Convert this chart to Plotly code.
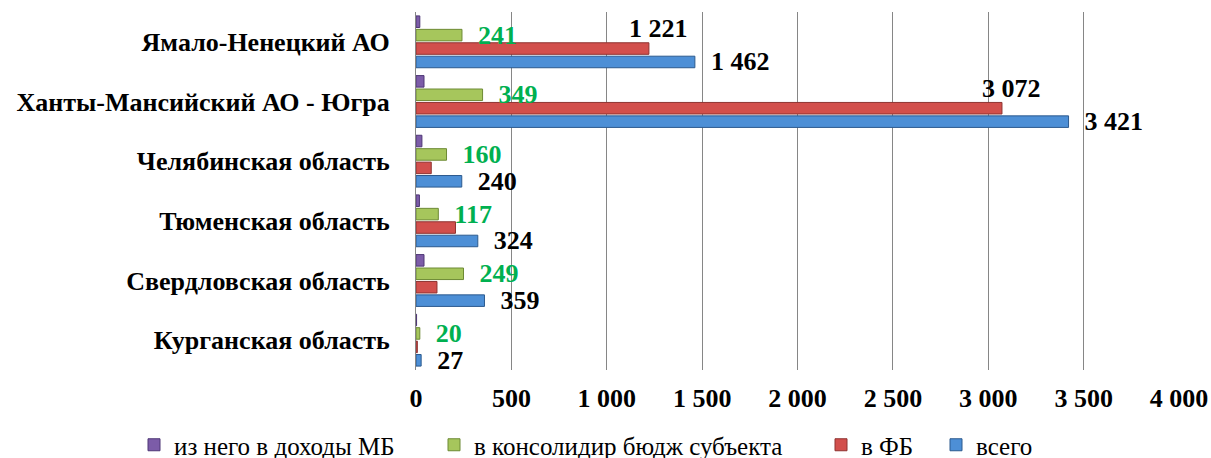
import plotly.graph_objects as go

categories = ["Курганская область", "Свердловская область", "Тюменская область",
              "Челябинская область", "Ханты-Мансийский АО - Югра", "Ямало-Ненецкий АО"]
total = [27, 359, 324, 240, 3421, 1462]
fed_budget = [7, 110, 207, 80, 3072, 1221]
subj_budget = [20, 249, 117, 160, 349, 241]
mun_budget = [3, 42, 18, 31, 42, 20]
fed_label_shown = [False, False, False, False, True, True]
x_ticks = [0, 500, 1000, 1500, 2000, 2500, 3000, 3500, 4000]

names = ["всего", "в ФБ", "в консолидир бюдж субъекта", "из него в доходы МБ"]
colors = ["#4d8fd6", "#d24f4c", "#a6c65c", "#7c5ca8"]
edges = ["#2c5a8e", "#8e3331", "#6d8a34", "#4e3776"]
legend_text_left = [972, 857, 470, 170]  # pixel x where each legend text starts

FONT = "Liberation Serif"
FS = 26
W, H = 1211, 458

def fmt(v):
    return f"{v:,}".replace(",", " ")

fig = go.Figure()
series = [total, fed_budget, subj_budget, mun_budget]
label_colors = {0: "black", 2: "#00b050"}
legend_ids = ["legend", "legend2", "legend3", "legend4"]
for i, vals in enumerate(series):
    kw = {}
    if i in label_colors:
        kw = dict(text=["<b>\u00a0\u00a0" + fmt(v) + "</b>" for v in vals], textposition="outside",
                  textfont=dict(family=FONT, size=FS, color=label_colors[i]))
    fig.add_trace(go.Bar(
        y=categories, x=vals, orientation="h", name=names[i], legend=legend_ids[i],
        marker=dict(color=colors[i], line=dict(color=edges[i], width=1)),
        constraintext="none", cliponaxis=False, **kw))

slot = 0.9 / 4
for idx, (cat, v, show) in enumerate(zip(categories, fed_budget, fed_label_shown)):
    if show:
        fig.add_annotation(x=v, y=idx - 0.5 * slot, xref="x", yref="y",
                           text="<b>" + fmt(v) + "</b>", showarrow=False,
                           xanchor="center", yanchor="middle",
                           xshift=10, yshift=20,
                           font=dict(family=FONT, size=FS, color="black"))

legend_common = dict(orientation="h", xref="container", yref="container", xanchor="left",
                     y=1 - 445 / H, yanchor="middle", bgcolor="rgba(0,0,0,0)",
                     font=dict(family=FONT, size=25, color="black"), itemwidth=30)
layout_legends = {}
for lid, tx in zip(legend_ids, legend_text_left):
    layout_legends[lid] = dict(legend_common, x=(tx - 36) / W)

fig.update_layout(
    width=W, height=H,
    margin=dict(l=416, r=32, t=12, b=88, autoexpand=False),
    paper_bgcolor="white", plot_bgcolor="white",
    barmode="group", bargap=0.1, bargroupgap=0.14,
    showlegend=True,
    font=dict(family=FONT),
    **layout_legends,
)
fig.update_xaxes(range=[0, 4000], tickvals=x_ticks,
                 ticktext=["<b>" + fmt(v) + "</b>" for v in x_ticks],
                 showgrid=True, gridcolor="#868686", gridwidth=1, zeroline=False,
                 showline=False, ticks="", ticklabelstandoff=10, automargin=False,
                 tickfont=dict(family=FONT, size=FS, color="black"))
fig.update_yaxes(showgrid=False, showline=True, linecolor="#868686", linewidth=1,
                 ticks="", ticklabelstandoff=20, automargin=False,
                 tickvals=categories, ticktext=["<b>" + c + "</b>" for c in categories],
                 tickfont=dict(family=FONT, size=FS, color="black"))

fig.write_html("out.html", config={"displayModeBar": False},
               post_script="document.body.style.margin='0';document.body.style.padding='0';")
